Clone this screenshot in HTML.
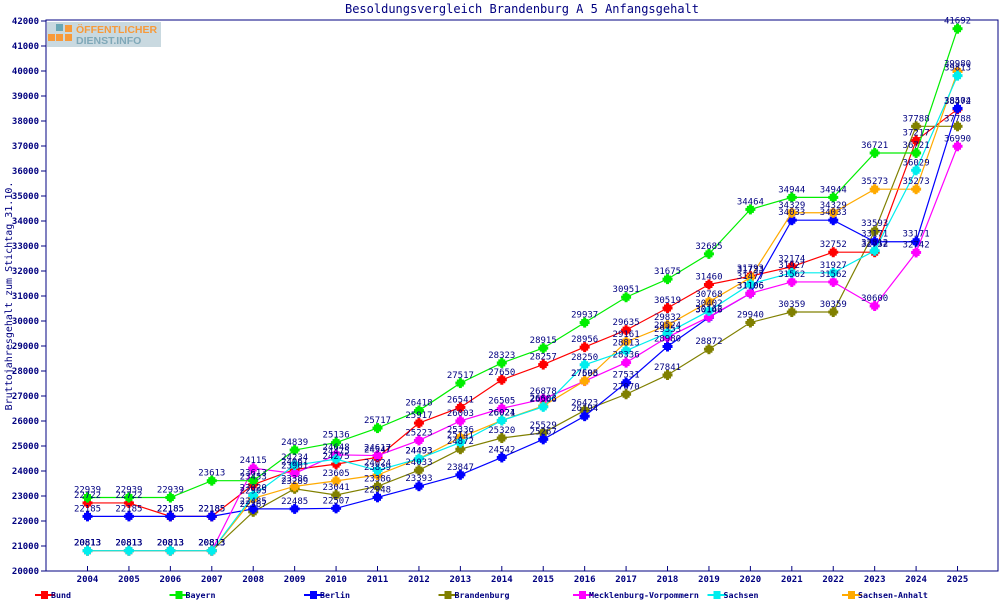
<!DOCTYPE html>
<html><head><meta charset="utf-8"><style>
body{margin:0;background:#fff;width:1000px;height:600px;overflow:hidden}
svg{font-family:"DejaVu Sans Mono","Liberation Mono",monospace}
</style></head><body>
<svg id="c" width="1000" height="600" xmlns="http://www.w3.org/2000/svg">
<text x="522" y="13" text-anchor="middle" font-size="12" fill="#000080">Besoldungsvergleich Brandenburg A 5 Anfangsgehalt</text>
<text transform="translate(12,296) rotate(-90)" text-anchor="middle" font-size="10" fill="#000080">Bruttojahresgehalt zum Stichtag 31.10.</text>
<rect x="46" y="20" width="952" height="551" fill="none" stroke="#000080" stroke-width="1"/>
<g>
<rect x="47" y="22" width="114" height="25" fill="#c9d9e0"/>
<rect x="56" y="24" width="7" height="7" fill="#6aa7b5"/>
<rect x="65" y="25" width="7" height="7" fill="#f79a3a"/>
<rect x="48" y="34" width="7" height="7" fill="#f79a3a"/>
<rect x="56" y="34" width="7" height="7" fill="#f79a3a"/>
<rect x="65" y="34" width="7" height="7" fill="#f79a3a"/>
<text x="76" y="33" font-family="Liberation Sans,sans-serif" font-weight="bold" font-size="10.5" fill="#f79a3a">ÖFFENTLICHER</text>
<text x="76" y="44" font-family="Liberation Sans,sans-serif" font-weight="bold" font-size="10.5" fill="#7fa8b8">DIENST.INFO</text>
</g>
<g id="ax"></g><g id="ser"></g><g id="lab"></g><g id="leg"></g>
</svg>
<script>
var NS="http://www.w3.org/2000/svg";
function el(p,t,a,txt){var e=document.createElementNS(NS,t);for(var k in a)e.setAttribute(k,a[k]);if(txt!=null)e.textContent=txt;document.getElementById(p).appendChild(e);return e;}
function X(i){return 87.5+i*41.43;}
function Y(v){return 571-(v-20000)*550/22000;}
for(var v=20000;v<=42000;v+=1000){var y=Y(v);el("ax","line",{x1:41,x2:46,y1:y,y2:y,stroke:"#000080"});el("ax","text",{x:39,y:y+3,"text-anchor":"end","font-size":"9","font-weight":"bold",fill:"#000080"},v);}
for(var i=0;i<22;i++){var x=X(i);el("ax","line",{x1:x,x2:x,y1:566,y2:571,stroke:"#000080"});el("ax","text",{x:x,y:582,"text-anchor":"middle","font-size":"9","font-weight":"bold",fill:"#000080"},2004+i);}
var S=[
["Bund","#ff0000",[22722,22722,22185,22185,23453,24061,24275,24547,25917,26541,27650,28257,28956,29635,30519,31460,31793,32174,32752,32752,37217,38472]],
["Bayern","#00ee00",[22939,22939,22939,23613,23613,24839,25136,25717,26418,27517,28323,28915,29937,30951,31675,32685,34464,34944,34944,36721,36721,41692]],
["Berlin","#0000ff",[22185,22185,22185,22185,22485,22485,22507,22948,23393,23847,24542,25267,26194,27531,28980,30146,31106,34033,34033,33171,33171,38504]],
["Brandenburg","#808000",[20813,20813,20813,20813,22367,23289,23041,23386,24033,24872,25320,25529,26423,27070,27841,28872,29940,30359,30359,33593,37788,37788]],
["Mecklenburg-Vorpommern","#ff00ff",[20813,20813,20813,20813,24115,23901,24648,24617,25223,26003,26505,26878,27598,28336,29353,30162,31106,31562,31562,30600,32742,36990]],
["Sachsen","#00eeee",[20813,20813,20813,20813,23020,24234,24475,24024,24493,25141,26021,26566,28250,28813,29524,30402,31477,31927,31927,32812,36029,39813]],
["Sachsen-Anhalt","#ffaa00",[20813,20813,20813,20813,22905,23386,23605,23839,24493,25336,26024,26603,27605,29161,29832,30768,31733,34329,34329,35273,35273,39980]]];
var order=[3,0,2,4,6,5,1];
order.forEach(function(k){var s=S[k];var pts=s[2].map(function(v,i){return X(i)+","+Y(v)}).join(" ");
el("ser","polyline",{points:pts,fill:"none",stroke:s[1],"stroke-width":"1.2"});
s[2].forEach(function(v,i){var x=X(i),y=Y(v);el("ser","rect",{x:x-3.5,y:y-3.5,width:7,height:7,fill:s[1]});el("ser","rect",{x:x-1.5,y:y-5,width:3,height:10,fill:s[1]});el("ser","rect",{x:x-5,y:y-1.5,width:10,height:3,fill:s[1]});
el("lab","text",{x:x,y:y-5,"text-anchor":"middle","font-size":"9",fill:"#000080"},v);});});
S.forEach(function(s,k){var x=35+k*134.5;el("leg","line",{x1:x,x2:x+20,y1:595,y2:595,stroke:s[1],"stroke-width":"2"});el("leg","rect",{x:x+6,y:591,width:7,height:8,fill:s[1]});el("leg","text",{x:x+16,y:598,"font-size":"8.3","font-weight":"bold",fill:"#000080"},s[0]);});
</script>
</body></html>
